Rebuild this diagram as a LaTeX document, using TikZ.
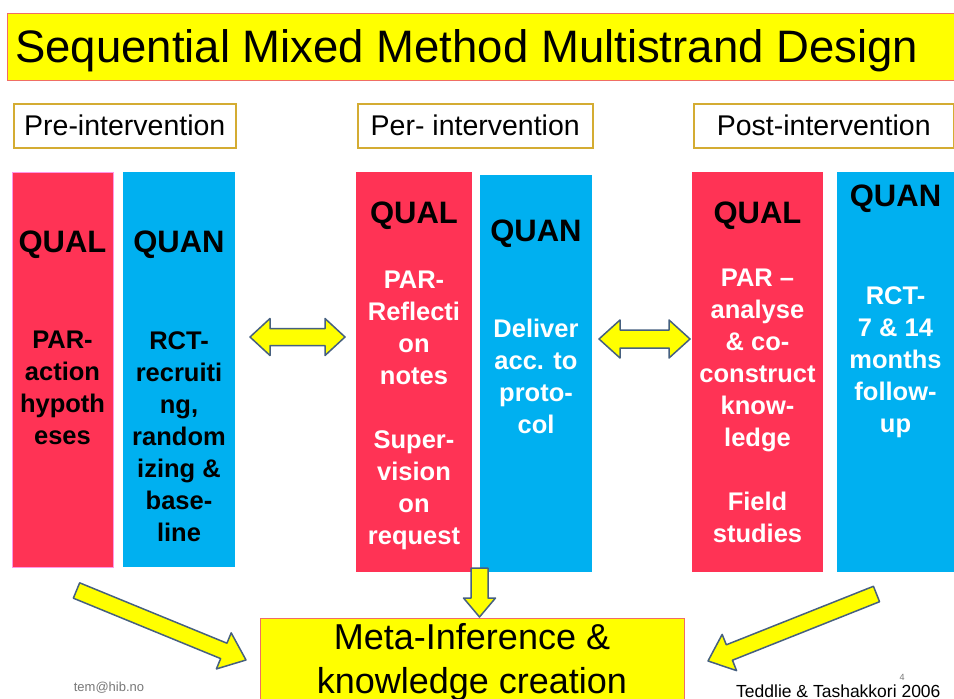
\documentclass[tikz,border=0pt]{standalone}
\usepackage{fontspec}
\setmainfont{Liberation Sans}
\usetikzlibrary{calc}
\definecolor{qualred}{RGB}{255,51,85}
\definecolor{quanblue}{RGB}{0,176,240}
\definecolor{ylw}{RGB}{255,255,0}
\definecolor{titleborder}{RGB}{240,110,100}
\definecolor{hdrborder}{RGB}{212,172,50}
\definecolor{arrowedge}{RGB}{70,96,128}
\definecolor{pinkedge}{RGB}{255,150,230}
\definecolor{footgray}{RGB}{120,120,120}

\tikzset{
  colbox/.style={inner sep=0pt, anchor=north west},
  hdrbox/.style={draw=hdrborder, line width=1.5pt, inner sep=0pt, anchor=north west,
    font=\fontsize{28.5}{32}\selectfont},
  lbl/.style={inner sep=0pt, anchor=base, font=\fontsize{31}{36}\selectfont\bfseries},
  body/.style={inner sep=0pt, anchor=north, align=center,
    font=\fontsize{25.5}{32}\selectfont\bfseries},
  fatarrow/.style={draw=arrowedge, fill=ylw, line width=1.5pt, line join=round},
}

\newcommand\fatarrowdraw[5]{%
  \path ($(#2)!#5!(#1)$) coordinate (fa-hb);
  \draw[fatarrow] ($(#1)!#3!90:(#2)$) -- ($(fa-hb)!#3!90:(#2)$) -- ($(fa-hb)!#4!90:(#2)$)
    -- (#2) -- ($(fa-hb)!#4!-90:(#2)$) -- ($(fa-hb)!#3!-90:(#2)$) -- ($(#1)!#3!-90:(#2)$) -- cycle;
}
\newcommand\dblarrowdraw[5]{%
  \path ($(#1)!#5!(#2)$) coordinate (da-l) ($(#2)!#5!(#1)$) coordinate (da-r);
  \draw[fatarrow] (#1) -- ($(da-l)!#4!90:(#2)$) -- ($(da-l)!#3!90:(#2)$)
    -- ($(da-r)!#3!-90:(#1)$) -- ($(da-r)!#4!-90:(#1)$) -- (#2)
    -- ($(da-r)!#4!90:(#1)$) -- ($(da-r)!#3!90:(#1)$)
    -- ($(da-l)!#3!-90:(#2)$) -- ($(da-l)!#4!-90:(#2)$) -- cycle;
}

\begin{document}
\begin{tikzpicture}[x=1pt,y=-1pt]
\useasboundingbox (0,0) rectangle (954,699);
\clip (0,0) rectangle (954,699);
\fill[white] (0,0) rectangle (954,699);

% title
\node[colbox, draw=titleborder, fill=ylw, line width=1.2pt, minimum width=955, minimum height=67] (titlebox) at (7,13) {};
\node[inner sep=0pt, anchor=base west, font=\fontsize{45.5}{50}\selectfont] (title) at (15,62) {Sequential Mixed Method Multistrand Design};

% phase headers
\node[hdrbox, minimum width=222, minimum height=44] (hpre) at (13,103) {Pre-intervention};
\node[hdrbox, minimum width=235, minimum height=44] (hper) at (357,103) {Per- intervention};
\node[hdrbox, minimum width=260, minimum height=44] (hpost) at (693,103) {Post-intervention};

% columns
\node[colbox, fill=qualred, draw=pinkedge, line width=1.2pt, minimum width=101, minimum height=395] (preQual) at (12,172) {};
\node[colbox, fill=quanblue, minimum width=112, minimum height=395] (preQuan) at (123,172) {};
\node[colbox, fill=qualred, minimum width=116, minimum height=400] (perQual) at (356,172) {};
\node[colbox, fill=quanblue, minimum width=112, minimum height=397] (perQuan) at (480,175) {};
\node[colbox, fill=qualred, minimum width=131, minimum height=400] (postQual) at (692,172) {};
\node[colbox, fill=quanblue, minimum width=125, minimum height=400] (postQuan) at (837,172) {};

% column labels
\node[lbl] (preQualL) at (62.5,252) {QUAL};
\node[lbl] (preQuanL) at (179,252) {QUAN};
\node[lbl] (perQualL) at (414,223) {QUAL};
\node[lbl] (perQuanL) at (536,241) {QUAN};
\node[lbl] (postQualL) at (757.5,223) {QUAL};
\node[lbl] (postQuanL) at (895.5,206) {QUAN};

% column texts
\node[body, text=black] (preQualT) at (62.5,331) {PAR-\\action\\hypoth\\eses};
\node[body, text=black] (preQuanT) at (179,331) {RCT-\\recruiti\\ng,\\random\\izing \&\\base-\\line};
\node[body, text=white] (perQualT) at (414,271) {PAR-\\Reflecti\\on\\notes\\[32pt]Super-\\vision\\on\\request};
\node[body, text=white] (perQuanT) at (536,319) {Deliver\\acc. to\\proto-\\col};
\node[body, text=white] (postQualT) at (757.5,269) {PAR –\\analyse\\\& co-\\construct\\know-\\ledge\\[32pt]Field\\studies};
\node[body, text=white] (postQuanT) at (895.5,286) {RCT-\\7 \& 14\\months\\follow-\\up};

% meta box
\node[colbox, draw=titleborder, fill=ylw, line width=1.2pt, minimum width=424, minimum height=100] (meta) at (260,618) {};
\node[inner sep=0pt, anchor=north, align=center, font=\fontsize{36}{44}\selectfont] (metaT) at (472,623) {Meta-Inference \&\\knowledge creation};

% arrows
\coordinate (a1l) at (250,337);
\coordinate (a1r) at (345,337);
\coordinate (a2l) at (599,339);
\coordinate (a2r) at (690,339);
\coordinate (dTail) at (479.5,568);
\coordinate (dTip) at (479.5,617);
\coordinate (lTail) at (76.5,590.5);
\coordinate (lTip) at (246,660);
\coordinate (rTail) at (876.5,594);
\coordinate (rTip) at (708,661);
\dblarrowdraw{a1l}{a1r}{8.5pt}{18.5pt}{20pt}
\dblarrowdraw{a2l}{a2r}{9pt}{19pt}{21pt}
\fatarrowdraw{dTail}{dTip}{8.5pt}{16pt}{19pt}
\fatarrowdraw{lTail}{lTip}{8.3pt}{19.5pt}{24pt}
\fatarrowdraw{rTail}{rTip}{8.3pt}{19.5pt}{23pt}

% footer
\node[inner sep=0pt, anchor=base, text=footgray, font=\fontsize{13}{15}\selectfont] (email) at (109,691) {tem@hib.no};
\node[inner sep=0pt, anchor=base west, font=\fontsize{17.5}{20}\selectfont] (cite) at (736,697) {Teddlie \& Tashakkori 2006};
\node[inner sep=0pt, anchor=base, text=footgray, font=\fontsize{9}{10}\selectfont] (pnum) at (902,680) {4};
\end{tikzpicture}
\end{document}
